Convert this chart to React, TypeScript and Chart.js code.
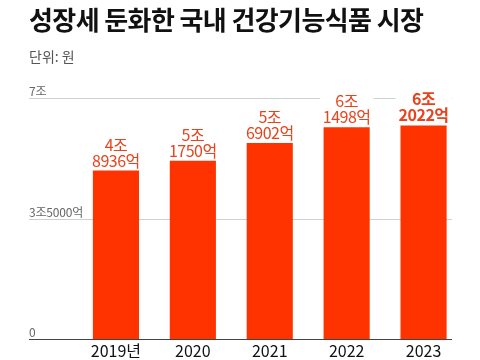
import React, { useEffect, useRef } from "react";
import { Chart, registerables } from "chart.js";

Chart.register(...registerables);

const categories = ["2019년", "2020", "2021", "2022", "2023"];
// values in 억 원
const values = [48936, 51750, 56902, 61498, 62022];
const labelTop = ["4조", "5조", "5조", "6조", "6조"];
const labelBottom = ["8936억", "1750억", "6902억", "1498억", "2022억"];
const yTickValues = [0, 35000, 70000];
const yTickLabels = ["0", "3조5000억", "7조"];

const FONT = "'Noto Sans CJK KR', 'Noto Sans', sans-serif";
const BAR = "#ff3300";
const LABEL = "#e8431c";

export default function App() {
  const ref = useRef<HTMLCanvasElement>(null);

  useEffect(() => {
    if (!ref.current) return;
    const gridPlugin = {
      id: "customGrid",
      beforeDatasetsDraw(chart: any) {
        const { ctx } = chart;
        const y = chart.scales.y;
        const x0 = 29;
        const x1 = 452;
        ctx.save();
        yTickValues.forEach((v, i) => {
          const py = Math.round(y.getPixelForValue(v)) + 0.5;
          if (v !== 0) {
            ctx.strokeStyle = "#d0d0d0";
            ctx.lineWidth = 1;
            ctx.beginPath();
            ctx.moveTo(x0, py);
            ctx.lineTo(x1, py);
            ctx.stroke();
          }
          ctx.fillStyle = "#666";
          ctx.font = `12px ${FONT}`;
          ctx.textAlign = "left";
          ctx.textBaseline = "alphabetic";
          ctx.letterSpacing = "-0.2px";
          ctx.fillText(yTickLabels[i], x0, py - 3);
        });
        ctx.restore();
      },
      afterDatasetsDraw(chart: any) {
        const { ctx } = chart;
        const y = chart.scales.y;
        const py = Math.round(y.getPixelForValue(0)) + 0.5;
        ctx.save();
        ctx.strokeStyle = "#444";
        ctx.lineWidth = 1.2;
        ctx.beginPath();
        ctx.moveTo(29, py);
        ctx.lineTo(452, py);
        ctx.stroke();
        const meta = chart.getDatasetMeta(0);
        meta.data.forEach((bar: any, i: number) => {
          const last = i === meta.data.length - 1;
          ctx.font = `${last ? "bold " : ""}16px ${FONT}`;
          ctx.letterSpacing = "-0.5px";
          const w = Math.max(
            ctx.measureText(labelBottom[i]).width,
            ctx.measureText(labelTop[i]).width
          );
          ctx.fillStyle = "#fff";
          ctx.fillRect(bar.x - w / 2 - 3, bar.y - 36, w + 6, 31);
          ctx.fillStyle = LABEL;
          ctx.textAlign = "center";
          ctx.textBaseline = "alphabetic";
          ctx.fillText(labelBottom[i], bar.x, bar.y - 4);
          ctx.fillText(labelTop[i], bar.x, bar.y - 20);
        });
        ctx.restore();
      },
    };

    const chart = new Chart(ref.current, {
      type: "bar",
      data: {
        labels: categories,
        datasets: [
          {
            data: values,
            backgroundColor: BAR,
            borderWidth: 0,
            barPercentage: 1,
            categoryPercentage: 0.6,
          },
        ],
      },
      options: {
        animation: false,
        responsive: false,
        maintainAspectRatio: false,
        layout: { padding: { left: 77.5, right: 18, top: 98, bottom: -3 } },
        plugins: {
          legend: { display: false },
          tooltip: { enabled: false },
          title: { display: false },
        },
        scales: {
          x: {
            grid: { display: false, drawTicks: false, tickLength: 0 },
            border: { display: false },
            ticks: {
              color: "#111",
              font: { family: FONT, size: 16, lineHeight: 1 },
              padding: 4,
              maxRotation: 0,
              autoSkip: false,
            },
          },
          y: {
            display: false,
            min: 0,
            max: 70000,
          },
        },
      },
      plugins: [gridPlugin],
    });
    return () => chart.destroy();
  }, []);

  return (
    <div
      style={{
        position: "fixed",
        left: 0,
        top: 0,
        width: 480,
        height: 360,
        background: "#fff",
        overflow: "hidden",
      }}
    >
      <canvas
        ref={ref}
        width={480}
        height={360}
        style={{ position: "absolute", left: 0, top: 0, width: 480, height: 360 }}
      />
      <div
        style={{
          position: "absolute",
          left: 29,
          top: 3,
          fontFamily: FONT,
          fontWeight: 700,
          fontSize: 26,
          letterSpacing: "-0.6px",
          color: "#111",
          whiteSpace: "nowrap",
          lineHeight: "32px",
        }}
      >
        성장세 둔화한 국내 건강기능식품 시장
      </div>
      <div
        style={{
          position: "absolute",
          left: 29,
          top: 47,
          fontFamily: FONT,
          fontSize: 14,
          color: "#555",
          whiteSpace: "nowrap",
          lineHeight: "18px",
        }}
      >
        단위: 원
      </div>
    </div>
  );
}
